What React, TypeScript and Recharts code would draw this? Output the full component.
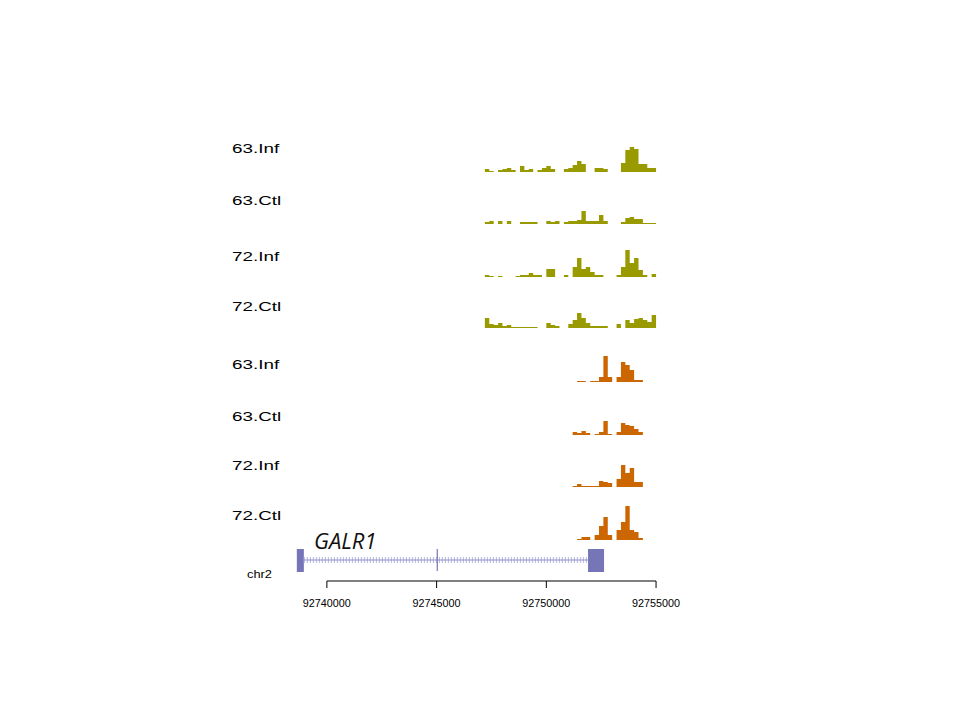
import { Area, ComposedChart, ReferenceArea, ReferenceLine, XAxis, YAxis } from 'recharts';

// coverage is binned in 200 bp windows starting here
const BIN_START = 92747200;
const BIN_SIZE = 200;

// one value per bin (39 bins, up to 92755000)
const inf63A = [3, 1, 0, 2, 3, 4, 2, 0, 6, 2, 3, 0, 2, 4, 6, 3, 0, 0, 3, 4, 7, 11, 8, 0, 0, 4, 4, 3, 0, 0, 0, 9, 22, 25, 23, 8, 8, 4, 4];
const ctl63A = [2, 3, 0, 3, 0, 3, 0, 0, 2, 2, 2, 2, 0, 0, 3, 2, 3, 0, 2, 3, 3, 4, 13, 3, 3, 3, 9, 3, 0, 0, 0, 2, 6, 7, 5, 5, 1, 1, 1];
const inf72A = [2, 1, 0, 1, 0, 0, 0, 1, 2, 2, 4, 2, 2, 0, 8, 8, 0, 0, 2, 0, 10, 19, 8, 10, 5, 2, 2, 0, 0, 0, 2, 10, 27, 14, 19, 7, 2, 0, 3];
const ctl72A = [10, 4, 3, 5, 2, 3, 1, 1, 1, 1, 1, 1, 0, 0, 5, 3, 2, 0, 0, 4, 8, 15, 10, 5, 2, 2, 2, 2, 0, 0, 4, 0, 8, 5, 9, 10, 8, 6, 13];
const inf63B = [0, 0, 0, 0, 0, 0, 0, 0, 0, 0, 0, 0, 0, 0, 0, 0, 0, 0, 0, 0, 0, 1, 1, 0, 1, 1, 5, 26, 5, 0, 5, 20, 17, 12, 2, 2, 0, 0, 0];
const ctl63B = [0, 0, 0, 0, 0, 0, 0, 0, 0, 0, 0, 0, 0, 0, 0, 0, 0, 0, 0, 0, 3, 2, 4, 2, 0, 1, 3, 14, 1, 0, 3, 12, 10, 9, 6, 3, 0, 0, 0];
const inf72B = [0, 0, 0, 0, 0, 0, 0, 0, 0, 0, 0, 0, 0, 0, 0, 0, 0, 0, 0, 0, 1, 3, 1, 1, 1, 1, 6, 5, 4, 0, 8, 22, 14, 19, 5, 5, 0, 0, 0];
const ctl72B = [0, 0, 0, 0, 0, 0, 0, 0, 0, 0, 0, 0, 0, 0, 0, 0, 0, 0, 0, 0, 0, 1, 3, 3, 0, 5, 14, 23, 5, 0, 10, 18, 34, 10, 8, 2, 0, 0, 0];

const trackLabels = ['63.Inf', '63.Ctl', '72.Inf', '72.Ctl', '63.Inf', '63.Ctl', '72.Inf', '72.Ctl'];
const axisTicks = [92740000, 92745000, 92750000, 92755000];

const geneName = 'GALR1';
const chromName = 'chr2';
const exons = [
  [92738630, 92738950],
  [92751900, 92752630],
];
const intronSpan = [92738950, 92751900];
const geneMark = 92745030;

const OLIVE = '#999900';
const ORANGE = '#cc6600';
const GENE = '#7575b8';

// y units are pixels above the axis line; each track sits on its own baseline
const trackBase = [409, 357, 304, 253, 199, 146, 94, 41];
const labelBaseline = [153, 205, 261, 311, 369, 421, 470, 520];
const trackSeries = [inf63A, ctl63A, inf72A, ctl72A, inf63B, ctl63B, inf72B, ctl72B];
const trackColor = [OLIVE, OLIVE, OLIVE, OLIVE, ORANGE, ORANGE, ORANGE, ORANGE];

const nBins = inf63A.length;
const rows = Array.from({ length: nBins + 1 }, (_, i) => {
  const j = Math.min(i, nBins - 1); // last row only closes the final step
  const row: Record<string, number | number[]> = { pos: BIN_START + i * BIN_SIZE };
  trackSeries.forEach((vals, k) => {
    row[`t${k}`] = [trackBase[k], trackBase[k] + vals[j]];
  });
  return row;
});

type TickProps = { x?: number; y?: number; payload?: { value: number } };

function AxisTick({ x = 0, y = 0, payload }: TickProps) {
  return (
    <text
      x={x}
      y={y}
      dy={19}
      textAnchor="middle"
      fontSize={10}
      fontFamily="'Liberation Sans', Arial, sans-serif"
      fill="#000"
      textLength={48}
      lengthAdjust="spacingAndGlyphs"
    >
      {payload?.value}
    </text>
  );
}

export default function App() {
  return (
    <div style={{ position: 'absolute', left: 0, top: 0, width: 960, height: 720, background: '#fff' }}>
      <ComposedChart
        width={960}
        height={720}
        data={rows}
        margin={{ top: 130, right: 282, bottom: 109, left: 283 }}
      >
        <XAxis
          dataKey="pos"
          type="number"
          domain={[92738000, 92756000]}
          allowDataOverflow
          ticks={axisTicks}
          interval={0}
          axisLine={false}
          tickLine={{ stroke: '#000' }}
          tickSize={7}
          tickMargin={0}
          height={30}
          tick={(p: TickProps) => <AxisTick {...p} />}
        />
        <YAxis hide type="number" domain={[0, 451]} allowDataOverflow />

        {trackSeries.map((_, k) => (
          <Area
            key={k}
            dataKey={`t${k}`}
            type="stepAfter"
            stroke="none"
            fill={trackColor[k]}
            fillOpacity={1}
            dot={false}
            activeDot={false}
            isAnimationActive={false}
          />
        ))}

        {/* gene model */}
        <ReferenceLine
          segment={[{ x: intronSpan[0], y: 21 }, { x: intronSpan[1], y: 21 }]}
          stroke="#b4b4de"
          strokeWidth={6}
          strokeDasharray="1 2"
        />
        <ReferenceLine
          segment={[{ x: intronSpan[0], y: 21 }, { x: intronSpan[1], y: 21 }]}
          stroke="#9090cc"
          strokeWidth={1}
        />
        <ReferenceLine
          segment={[{ x: geneMark, y: 10 }, { x: geneMark, y: 32 }]}
          stroke={GENE}
          strokeWidth={1.2}
        />
        {exons.map(([a, b], i) => (
          <ReferenceArea key={i} x1={a} x2={b} y1={9} y2={32} fill={GENE} fillOpacity={1} stroke="none" />
        ))}

        {/* genome axis line between first and last tick */}
        <ReferenceLine
          segment={[{ x: axisTicks[0], y: 0 }, { x: axisTicks[axisTicks.length - 1], y: 0 }]}
          stroke="#000"
          strokeWidth={1.2}
        />
      </ComposedChart>

      <svg
        width={960}
        height={720}
        style={{ position: 'absolute', left: 0, top: 0, pointerEvents: 'none' }}
      >
        {trackLabels.map((t, k) => (
          <text
            key={k}
            transform={`translate(232 ${labelBaseline[k]}) scale(1.45 1)`}
            fontSize={13}
            fontFamily="'Liberation Sans', Arial, sans-serif"
            fill="#000"
          >
            {t}
          </text>
        ))}
        <text x={314} y={549} fontSize={22} fontStyle="italic" fontFamily="'Open Sans', sans-serif" fill="#111">
          {geneName}
        </text>
        <text
          x={247}
          y={578}
          fontSize={11}
          fontFamily="'Liberation Sans', Arial, sans-serif"
          fill="#000"
          textLength={25}
          lengthAdjust="spacingAndGlyphs"
        >
          {chromName}
        </text>
      </svg>
    </div>
  );
}
